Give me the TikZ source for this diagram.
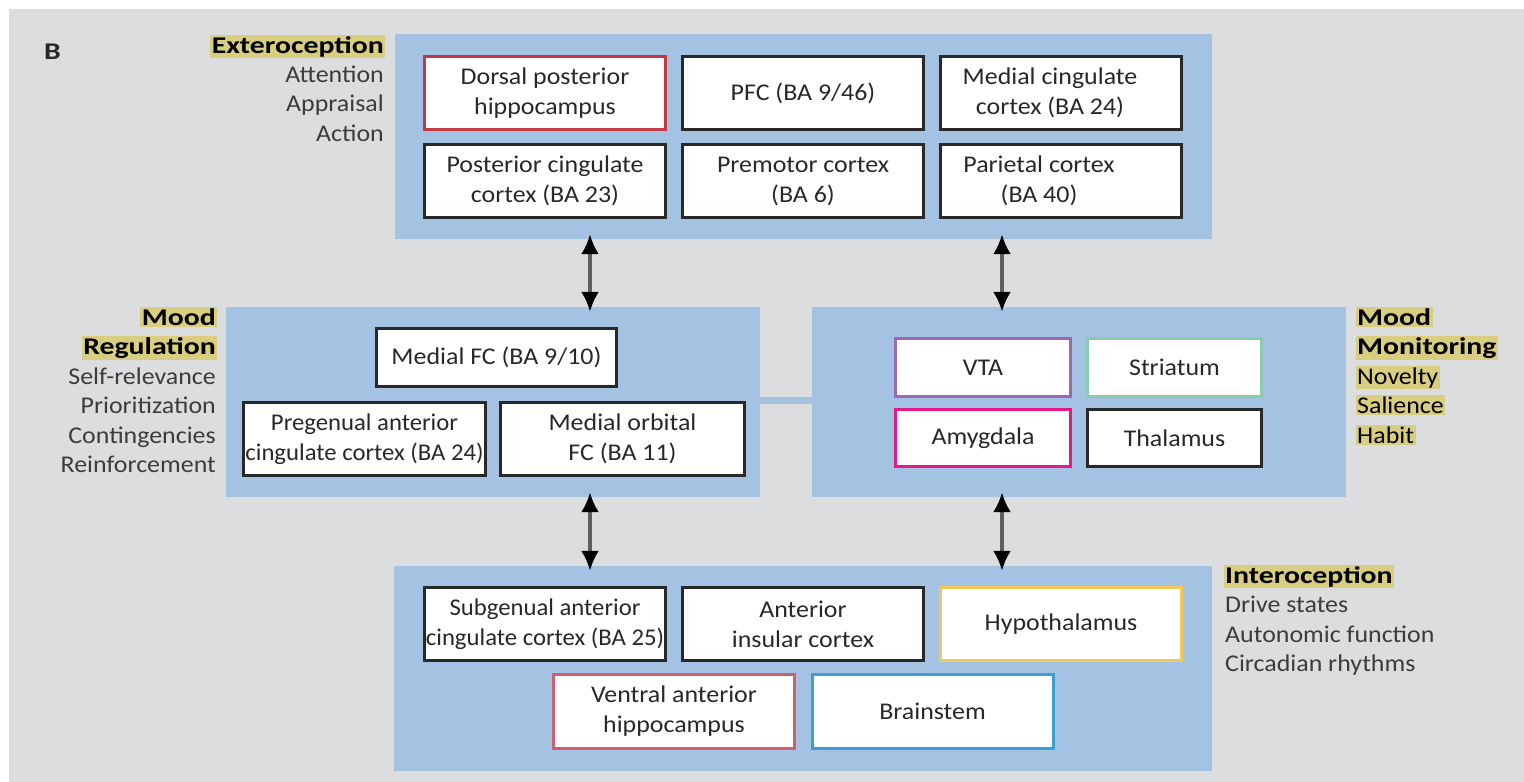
\documentclass[tikz,border=0pt]{standalone}
\usepackage{fontspec}
\setmainfont{Carlito}[FakeStretch=1.08, BoldFeatures={FakeStretch=1.24}]
\usetikzlibrary{arrows.meta}
\definecolor{bggray}{RGB}{220,221,223}
\definecolor{panelblue}{RGB}{164,195,226}
\definecolor{hlyellow}{RGB}{217,205,128}
\definecolor{boxdark}{RGB}{40,40,40}
\definecolor{txtdark}{RGB}{40,40,40}
\definecolor{lblgray}{RGB}{60,60,60}
\definecolor{cred}{RGB}{192,57,67}
\definecolor{cpinkred}{RGB}{204,96,108}
\definecolor{cpurple}{RGB}{160,102,176}
\definecolor{cgreen}{RGB}{140,202,172}
\definecolor{cmagenta}{RGB}{232,24,140}
\definecolor{cyellow}{RGB}{242,200,92}
\definecolor{cblue}{RGB}{62,160,210}
\definecolor{shaftgray}{RGB}{95,95,95}
\begin{document}
\begin{tikzpicture}[x=1pt,y=-1pt,
  every node/.style={font=\fontsize{24}{30}\selectfont},
  panel/.style={fill=panelblue, inner sep=0},
  region/.style={draw=boxdark, line width=3pt, fill=white, inner sep=0,
    align=center, text=txtdark, minimum width=241pt, minimum height=73pt},
  narrowtext/.style={font=\fontsize{24}{30}\selectfont\addfontfeature{FakeStretch=1.03}},
  lbl/.style={inner sep=0, text=lblgray},
  hl/.style={fill=hlyellow, inner sep=1.5pt, text=black, font=\fontsize{24}{30}\selectfont\bfseries},
  dbl/.style={draw=shaftgray, line width=3.5pt,
    {Latex[length=20pt,width=18pt,color=black]}-{Latex[length=20pt,width=18pt,color=black]},
    shorten <=-5pt, shorten >=-5pt}
]
\useasboundingbox (0,0) rectangle (1524,782);
\fill[white] (0,0) rectangle (1524,782);
\fill[bggray] (9,9) rectangle (1524,782);

% panels
\node[panel, minimum width=817pt, minimum height=205pt] (top) at (803.5,136.5) {};
\node[panel, minimum width=534pt, minimum height=190pt] (ml) at (493,402) {};
\node[panel, minimum width=534pt, minimum height=190pt] (mr) at (1079,402) {};
\node[panel, minimum width=818pt, minimum height=205pt] (bot) at (803,668.5) {};
\draw[panelblue, line width=7pt] ([yshift=1.5pt]ml.east) -- ([yshift=1.5pt]mr.west);

% top panel boxes
\node[region, draw=cred] (dph) at (545,93) {Dorsal posterior\\hippocampus};
\node[region] (pfc) at (803,93) {PFC (BA 9/46)};
\node[region] (mcc) at (1061,93) {Medial cingulate\hspace*{22pt}\\cortex (BA 24)\hspace*{22pt}};
\node[region] (pcc) at (545,181) {Posterior cingulate\\cortex (BA 23)};
\node[region] (pmc) at (803,181) {Premotor cortex\\(BA 6)};
\node[region] (par) at (1061,181) {Parietal cortex\hspace*{44pt}\\(BA 40)\hspace*{44pt}};

% mid-left boxes
\node[region, minimum width=240pt, minimum height=58pt] (mfc) at (496.5,357.5) {Medial FC (BA 9/10)};
\node[region, narrowtext, minimum width=242pt] (pacc) at (364.5,439) {Pregenual anterior\\cingulate cortex (BA 24)};
\node[region, minimum width=244pt] (mofc) at (622.5,439) {Medial orbital\\FC (BA 11)};

% mid-right boxes
\node[region, draw=cpurple, minimum width=175pt, minimum height=58pt] (vta) at (983,367.5) {VTA};
\node[region, draw=cgreen, minimum width=174pt, minimum height=58pt] (str) at (1174.5,367.5) {Striatum};
\node[region, draw=cmagenta, minimum width=175pt, minimum height=57pt] (amy) at (983,438) {Amygdala};
\node[region, minimum width=174pt, minimum height=57pt] (tha) at (1174.5,438) {Thalamus};

% bottom boxes
\node[region, narrowtext] (sacc) at (545,624) {Subgenual anterior\\cingulate cortex (BA 25)};
\node[region] (aic) at (803,624) {Anterior\\insular cortex};
\node[region, draw=cyellow] (hyp) at (1061,624) {Hypothalamus};
\node[region, draw=cpinkred, minimum height=74pt] (vah) at (674,711.5) {Ventral anterior\\hippocampus};
\node[region, draw=cblue, minimum height=74pt] (bst) at (932.5,711.5) {Brainstem};

% arrows
\coordinate (xa) at (590,0);
\coordinate (xb) at (1002,0);
\draw[dbl] (top.south -| xa) -- (ml.north -| xa);
\draw[dbl] (top.south -| xb) -- (mr.north -| xb);
\draw[dbl] (ml.south -| xa) -- (bot.north -| xa);
\draw[dbl] (mr.south -| xb) -- (bot.north -| xb);

% labels
\node[anchor=base west, inner sep=0, text=txtdark, font=\fontsize{24}{30}\selectfont\bfseries] (B) at (44,59) {B};

\node[hl, anchor=base east] (ext) at (385.5,53) {Exteroception};
\node[lbl, anchor=base east] (att) at (384,82) {Attention};
\node[lbl, anchor=base east] (app) at (384,111.5) {Appraisal};
\node[lbl, anchor=base east] (act) at (384,141) {Action};

\node[hl, anchor=base east] (mood1) at (217.5,325) {Mood};
\node[hl, anchor=base east] (reg) at (217.5,354.5) {Regulation};
\node[lbl, anchor=base east] (selfr) at (216,384) {Self-relevance};
\node[lbl, anchor=base east] (prio) at (216,413.5) {Prioritization};
\node[lbl, anchor=base east] (cont) at (216,443) {Contingencies};
\node[lbl, anchor=base east] (reinf) at (216,472.5) {Reinforcement};

\node[hl, anchor=base west] (mood2) at (1355.5,325) {Mood};
\node[hl, anchor=base west] (mon) at (1355.5,354.5) {Monitoring};
\node[hl, anchor=base west, font=\fontsize{24}{30}\selectfont] (nov) at (1355.5,384) {Novelty};
\node[hl, anchor=base west, font=\fontsize{24}{30}\selectfont] (sal) at (1355.5,413.5) {Salience};
\node[hl, anchor=base west, font=\fontsize{24}{30}\selectfont] (hab) at (1355.5,443) {Habit};

\node[hl, anchor=base west] (int) at (1223.5,583) {Interoception};
\node[lbl, anchor=base west] (drv) at (1225,612.5) {Drive states};
\node[lbl, anchor=base west] (aut) at (1225,642) {Autonomic function};
\node[lbl, anchor=base west] (cir) at (1225,671) {Circadian rhythms};
\end{tikzpicture}
\end{document}
